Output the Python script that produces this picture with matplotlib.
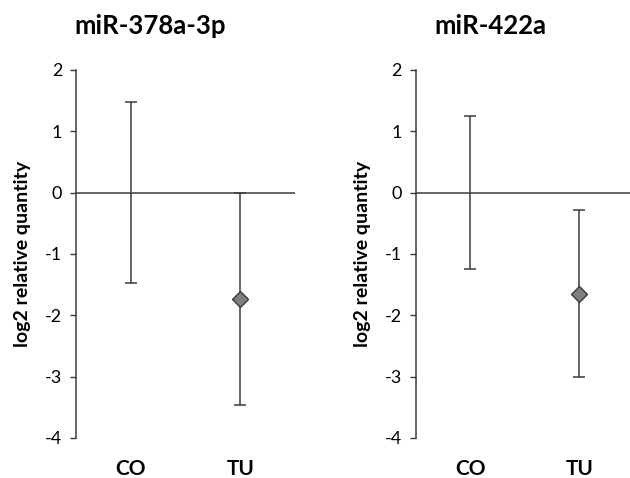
#!/usr/bin/env python3
"""Relative miRNA quantity (log2) in control vs tumour, two panels."""

import matplotlib
matplotlib.use("Agg")
import matplotlib.pyplot as plt

plt.rcParams["font.family"] = ["Lato", "DejaVu Sans"]
plt.rcParams["axes.unicode_minus"] = False   # plain hyphen, as in the source

CATEGORIES = ["CO", "TU"]
TITLES = ["miR-378a-3p", "miR-422a"]

# mean log2 relative quantity and error-bar limits, per panel
MEANS = [[0.0, -1.73], [0.0, -1.65]]
LOWER = [[-1.47, -3.47], [-1.25, -3.01]]
UPPER = [[1.47, 0.0], [1.25, -0.29]]
SHOW_MARKER = [False, True]   # CO mean sits on the zero line, no marker drawn

LINE = "#3a3a3a"

fig = plt.figure(figsize=(6.30, 4.78), dpi=100)
axes_rects = [(0.1206, 0.0837, 0.3476, 0.770), (0.660, 0.0837, 0.346, 0.770)]
title_x = [0.238, 0.778]

for i, rect in enumerate(axes_rects):
    ax = fig.add_axes(rect)
    xs = list(range(1, len(CATEGORIES) + 1))
    for x, m, lo, hi, mk in zip(xs, MEANS[i], LOWER[i], UPPER[i], SHOW_MARKER):
        ax.errorbar([x], [m], yerr=[[m - lo], [hi - m]], fmt="none",
                    ecolor=LINE, elinewidth=1.1, capsize=4.5, capthick=1.1,
                    zorder=3)
        if mk:
            ax.plot([x], [m], marker="D", markersize=8, color="#7f7f7f",
                    markeredgecolor=LINE, markeredgewidth=1.0, zorder=4)
    ax.axhline(0, color=LINE, linewidth=1.1, zorder=2)
    ax.set_xlim(0.5, 2.5)
    ax.set_ylim(-4, 2)
    ax.set_yticks(range(-4, 3))
    ax.set_xticks(xs)
    ax.set_xticklabels(CATEGORIES, fontsize=15, fontweight="bold")
    ax.tick_params(axis="x", length=0, pad=15)
    ax.tick_params(axis="y", length=4, width=1.0, color=LINE, labelsize=13,
                   pad=6)
    for side in ("top", "right", "bottom"):
        ax.spines[side].set_visible(False)
    ax.spines["left"].set_color(LINE)
    ax.spines["left"].set_linewidth(1.1)
    ax.set_ylabel("log2 relative quantity", fontsize=14, fontweight="bold",
                  labelpad=10)
    fig.text(title_x[i], 0.945, TITLES[i], fontsize=18.5, fontweight="bold",
             ha="center", va="center")

fig.savefig("out.png", dpi=100)
